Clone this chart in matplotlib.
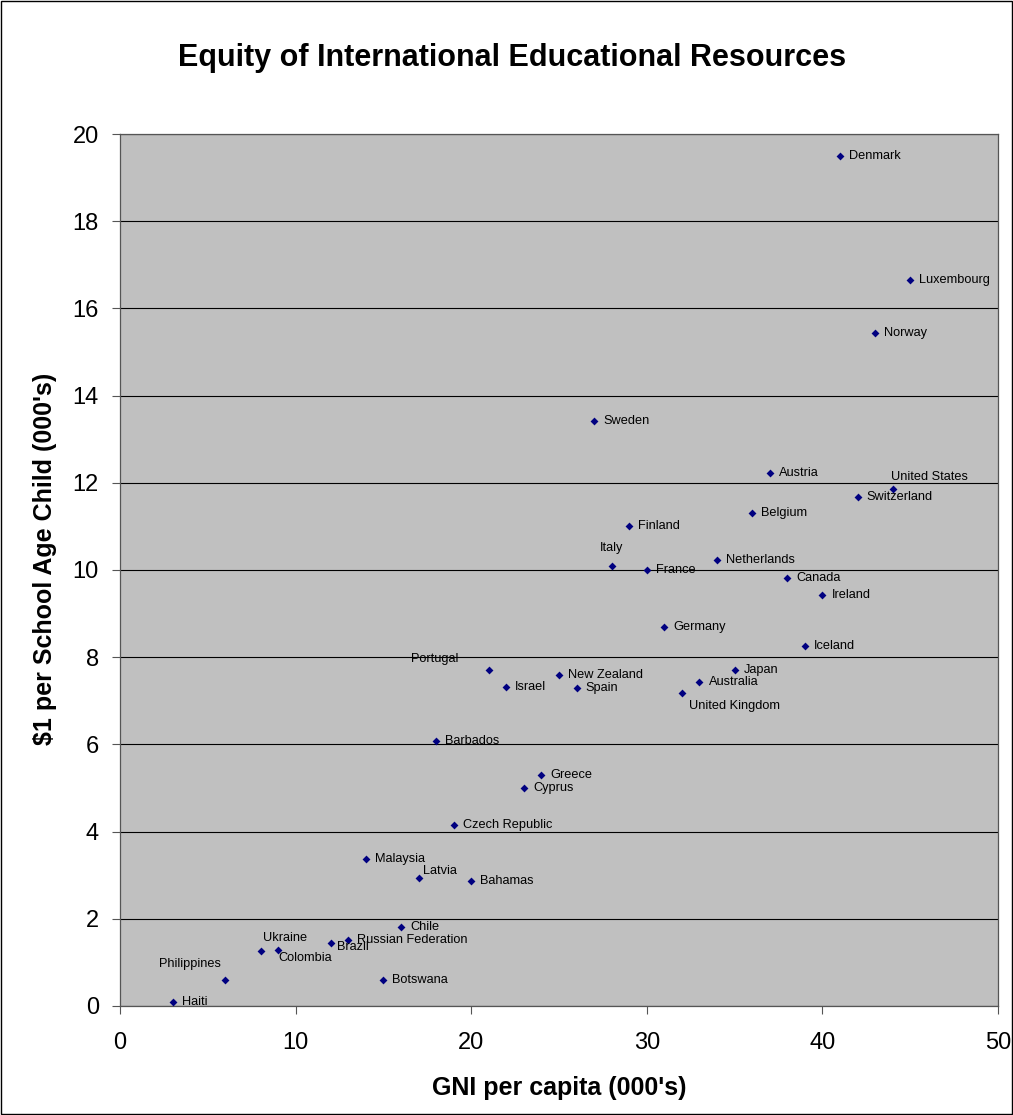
import matplotlib
matplotlib.use('Agg')
import matplotlib.pyplot as plt

plt.rcParams['font.family'] = ['Liberation Sans', 'DejaVu Sans']

# Data: GNI per capita (000's) vs $ per school age child (000's)
countries = ['Denmark', 'Luxembourg', 'Norway', 'Sweden', 'Austria', 'United States',
             'Switzerland', 'Belgium', 'Finland', 'Italy', 'France', 'Netherlands',
             'Canada', 'Ireland', 'Germany', 'Iceland', 'Portugal', 'New Zealand',
             'Japan', 'Australia', 'Israel', 'Spain', 'United Kingdom', 'Barbados',
             'Greece', 'Cyprus', 'Czech Republic', 'Malaysia', 'Latvia', 'Bahamas',
             'Chile', 'Russian Federation', 'Brazil', 'Colombia', 'Ukraine',
             'Philippines', 'Botswana', 'Haiti']
gni = [41, 45, 43, 27, 37, 44,
       42, 36, 29, 28, 30, 34,
       38, 40, 31, 39, 21, 25,
       35, 33, 22, 26, 32, 18,
       24, 23, 19, 14, 17, 20,
       16, 13, 12, 9, 8,
       6, 15, 3]
spend = [19.5, 16.65, 15.44, 13.42, 12.22, 11.86,
         11.67, 11.3, 11.0, 10.1, 10.0, 10.23,
         9.81, 9.43, 8.69, 8.26, 7.70, 7.58,
         7.70, 7.42, 7.32, 7.29, 7.18, 6.08,
         5.30, 5.0, 4.15, 3.37, 2.94, 2.87,
         1.80, 1.51, 1.45, 1.28, 1.26,
         0.60, 0.60, 0.08]

# label offsets in pixels (default: right of the point)
label_pos = {
    'Italy': (0, 18, 'center'),
    'Portugal': (-30, 11, 'right'),
    'United States': (-2, 12, 'left'),
    'United Kingdom': (7, -13, 'left'),
    'Ukraine': (2, 13, 'left'),
    'Colombia': (0, -8, 'left'),
    'Brazil': (6, -4, 'left'),
    'Philippines': (-5, 16, 'right'),
    'Latvia': (4, 7, 'left'),
}

fig = plt.figure(figsize=(10.13, 11.15), dpi=100)
ax = fig.add_axes([0.1185, 0.0978, 0.8667, 0.7820])
ax.set_facecolor('#C0C0C0')

ax.scatter(gni, spend, marker='D', s=16, color='#000080', zorder=3, linewidths=0)

for name, x, y in zip(countries, gni, spend):
    dx, dy, ha = label_pos.get(name, (9, 0, 'left'))
    ax.annotate(name, (x, y), xytext=(dx, dy), textcoords='offset pixels',
                ha=ha, va='center', fontsize=9.2, color='#000000', zorder=4)

ax.set_xlim(0, 50)
ax.set_ylim(0, 20)
ax.set_xticks(range(0, 51, 10))
ax.set_yticks(range(0, 21, 2))
ax.yaxis.grid(True, color='black', linewidth=0.8)
ax.set_axisbelow(True)
ax.tick_params(axis='both', direction='out', length=5.8, width=0.8, labelsize=17,
               color='#555555')
ax.tick_params(axis='y', pad=9.5)
ax.tick_params(axis='x', pad=13)
for sp in ax.spines.values():
    sp.set_linewidth(0.9)
    sp.set_color('#555555')

ax.set_xlabel("GNI per capita (000's)", fontsize=18, fontweight='bold', labelpad=16)
ax.set_ylabel("$1 per School Age Child (000's)", fontsize=18, fontweight='bold')
ax.yaxis.set_label_coords(-0.0718, 0.5126)
fig.text(0.505, 0.948, 'Equity of International Educational Resources',
         ha='center', va='center', fontsize=22, fontweight='bold')

# outer border
fig.patches.append(plt.Rectangle((0.001, 0.001), 0.998, 0.998, transform=fig.transFigure,
                                 fill=False, edgecolor='black', linewidth=1))

fig.savefig('out.png', dpi=100)
